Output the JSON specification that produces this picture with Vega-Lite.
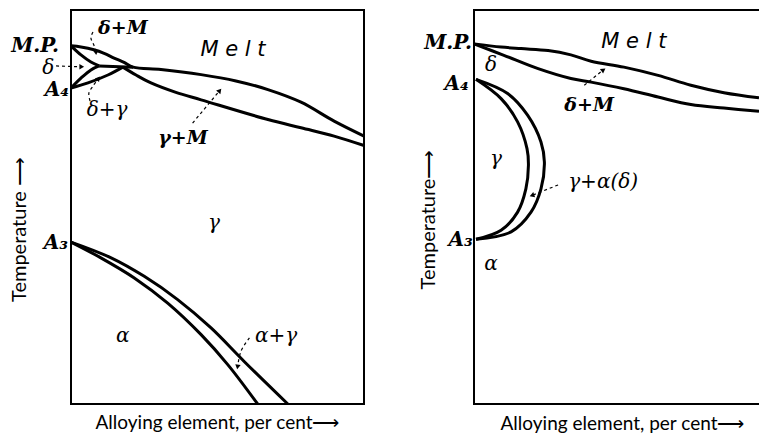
{
  "$schema": "https://vega.github.io/schema/vega-lite/v6.json",
  "background": "white",
  "padding": {"left": 8, "top": 6, "right": 1, "bottom": 0},
  "autosize": {"type": "pad"},
  "spacing": 110,
  "bounds": "flush",
  "config": {"axis": {"labels": false, "ticks": false, "domain": false, "grid": false, "titleFont": "Lato", "titleFontSize": 19, "titleFontWeight": "normal", "titleColor": "black", "titleAlign": "center", "titleBaseline": "middle"}},
  "datasets": {
    "L_curves": [
      {"c": "liq", "i": 0, "x": 0, "y": 90.9}, {"c": "liq", "i": 1, "x": 3.4, "y": 90.6}, {"c": "liq", "i": 2, "x": 7.8, "y": 89.9}, {"c": "liq", "i": 3, "x": 11.3, "y": 89.0}, {"c": "liq", "i": 4, "x": 14.7, "y": 87.8}, {"c": "liq", "i": 5, "x": 18.1, "y": 86.7}, {"c": "liq", "i": 6, "x": 21.2, "y": 85.5}, {"c": "liq", "i": 7, "x": 30.7, "y": 84.9}, {"c": "liq", "i": 8, "x": 44.4, "y": 83.6}, {"c": "liq", "i": 9, "x": 56.3, "y": 82.0}, {"c": "liq", "i": 10, "x": 67.2, "y": 79.8}, {"c": "liq", "i": 11, "x": 78.5, "y": 76.6}, {"c": "liq", "i": 12, "x": 89.8, "y": 71.8}, {"c": "liq", "i": 13, "x": 100, "y": 68.0},
      {"c": "dM", "i": 0, "x": 0, "y": 90.9}, {"c": "dM", "i": 1, "x": 3.4, "y": 88.6}, {"c": "dM", "i": 2, "x": 6.8, "y": 86.8}, {"c": "dM", "i": 3, "x": 9.6, "y": 85.8},
      {"c": "dG", "i": 0, "x": 9.6, "y": 85.8}, {"c": "dG", "i": 1, "x": 6.8, "y": 84.8}, {"c": "dG", "i": 2, "x": 3.4, "y": 82.7}, {"c": "dG", "i": 3, "x": 0, "y": 80.2},
      {"c": "hz", "i": 0, "x": 9.6, "y": 85.8}, {"c": "hz", "i": 1, "x": 21.2, "y": 85.5},
      {"c": "dgl", "i": 0, "x": 0, "y": 80.2}, {"c": "dgl", "i": 1, "x": 5.8, "y": 81.5}, {"c": "dgl", "i": 2, "x": 12.6, "y": 83.5}, {"c": "dgl", "i": 3, "x": 17.7, "y": 85.5},
      {"c": "sol", "i": 0, "x": 17.7, "y": 85.5}, {"c": "sol", "i": 1, "x": 22.2, "y": 83.5}, {"c": "sol", "i": 2, "x": 27.3, "y": 81.5}, {"c": "sol", "i": 3, "x": 35.8, "y": 79.1}, {"c": "sol", "i": 4, "x": 44.4, "y": 77.2}, {"c": "sol", "i": 5, "x": 67.2, "y": 72.2}, {"c": "sol", "i": 6, "x": 78.5, "y": 70.1}, {"c": "sol", "i": 7, "x": 89.8, "y": 68.0}, {"c": "sol", "i": 8, "x": 100, "y": 65.6},
      {"c": "agu", "i": 0, "x": 0, "y": 41.1}, {"c": "agu", "i": 1, "x": 13.7, "y": 37.1}, {"c": "agu", "i": 2, "x": 25.0, "y": 32.4}, {"c": "agu", "i": 3, "x": 36.4, "y": 26.5}, {"c": "agu", "i": 4, "x": 47.8, "y": 19.3}, {"c": "agu", "i": 5, "x": 59.1, "y": 10.8}, {"c": "agu", "i": 6, "x": 74.0, "y": 0},
      {"c": "agl", "i": 0, "x": 0, "y": 41.1}, {"c": "agl", "i": 1, "x": 10.2, "y": 37.1}, {"c": "agl", "i": 2, "x": 21.6, "y": 32.0}, {"c": "agl", "i": 3, "x": 33.0, "y": 25.6}, {"c": "agl", "i": 4, "x": 44.4, "y": 17.6}, {"c": "agl", "i": 5, "x": 53.5, "y": 10.0}, {"c": "agl", "i": 6, "x": 63.7, "y": 0}
    ],
    "L_arrows": [
      {"a": "a1", "i": 0, "x": -5.1, "y": 85.8}, {"a": "a1", "i": 1, "x": 3.0, "y": 85.6},
      {"a": "a2", "i": 0, "x": 7.5, "y": 94.4}, {"a": "a2", "i": 1, "x": 6.8, "y": 92.9}, {"a": "a2", "i": 2, "x": 7.8, "y": 91.1}, {"a": "a2", "i": 3, "x": 8.5, "y": 89.6},
      {"a": "a3", "i": 0, "x": 6.5, "y": 76.9}, {"a": "a3", "i": 1, "x": 6.1, "y": 78.9}, {"a": "a3", "i": 2, "x": 7.5, "y": 80.7}, {"a": "a3", "i": 3, "x": 9.2, "y": 82.5},
      {"a": "a4", "i": 0, "x": 41.5, "y": 71.3}, {"a": "a4", "i": 1, "x": 50.6, "y": 79.4},
      {"a": "a5", "i": 0, "x": 60.9, "y": 16.8}, {"a": "a5", "i": 1, "x": 58.0, "y": 13.4}, {"a": "a5", "i": 2, "x": 56.9, "y": 9.6}
    ],
    "L_heads": [
      {"x": 3.4, "y": 85.6, "h": 90}, {"x": 8.5, "y": 89.4, "h": 175}, {"x": 9.2, "y": 82.5, "h": 40}, {"x": 50.6, "y": 79.4, "h": 40}, {"x": 56.9, "y": 9.6, "h": 190}
    ],
    "L_labels": [
      {"g": "tag", "t": "M.P.", "x": -4.1, "y": 90.9}, {"g": "tag", "t": "A₄", "x": -0.7, "y": 79.7}, {"g": "tag", "t": "A₃", "x": -1.0, "y": 40.9},
      {"g": "gr", "t": "δ", "x": -7.8, "y": 85.3}, {"g": "gr", "t": "δ+γ", "x": 12.3, "y": 74.6}, {"g": "gr", "t": "γ", "x": 48.8, "y": 45.9}, {"g": "gr", "t": "α", "x": 17.7, "y": 17.3}, {"g": "gr", "t": "α+γ", "x": 70.0, "y": 17.3},
      {"g": "grb", "t": "δ+M", "x": 17.7, "y": 95.4}, {"g": "grb", "t": "γ+M", "x": 38.2, "y": 67.5},
      {"g": "melt", "t": "M e l t", "x": 55.3, "y": 89.8}
    ],
    "R_frame": [
      {"i": 0, "x": 100, "y": 100}, {"i": 1, "x": 0, "y": 100}, {"i": 2, "x": 0, "y": 0}, {"i": 3, "x": 100, "y": 0}
    ],
    "R_curves": [
      {"c": "liq", "i": 0, "x": 0, "y": 91.4}, {"c": "liq", "i": 1, "x": 9.5, "y": 90.6}, {"c": "liq", "i": 2, "x": 16.5, "y": 90.2}, {"c": "liq", "i": 3, "x": 26.0, "y": 89.7}, {"c": "liq", "i": 4, "x": 34.0, "y": 88.6}, {"c": "liq", "i": 5, "x": 41.1, "y": 87.0}, {"c": "liq", "i": 6, "x": 52.6, "y": 85.5}, {"c": "liq", "i": 7, "x": 64.6, "y": 83.4}, {"c": "liq", "i": 8, "x": 76.1, "y": 80.9}, {"c": "liq", "i": 9, "x": 87.7, "y": 79.0}, {"c": "liq", "i": 10, "x": 100, "y": 77.7},
      {"c": "sol", "i": 0, "x": 0, "y": 91.4}, {"c": "sol", "i": 1, "x": 10.5, "y": 88.5}, {"c": "sol", "i": 2, "x": 22.5, "y": 85.1}, {"c": "sol", "i": 3, "x": 34.0, "y": 82.6}, {"c": "sol", "i": 4, "x": 41.1, "y": 81.7}, {"c": "sol", "i": 5, "x": 52.6, "y": 80.0}, {"c": "sol", "i": 6, "x": 64.6, "y": 77.9}, {"c": "sol", "i": 7, "x": 76.1, "y": 76.0}, {"c": "sol", "i": 8, "x": 87.7, "y": 75.1}, {"c": "sol", "i": 9, "x": 100, "y": 74.3},
      {"c": "in", "i": 0, "x": 0.7, "y": 82.4}, {"c": "in", "i": 1, "x": 9.5, "y": 77.5}, {"c": "in", "i": 2, "x": 15.3, "y": 71.6}, {"c": "in", "i": 3, "x": 18.6, "y": 64.8}, {"c": "in", "i": 4, "x": 19.1, "y": 60.6}, {"c": "in", "i": 5, "x": 18.2, "y": 54.6}, {"c": "in", "i": 6, "x": 15.3, "y": 48.7}, {"c": "in", "i": 7, "x": 9.5, "y": 44.1}, {"c": "in", "i": 8, "x": 0.7, "y": 41.8},
      {"c": "out", "i": 0, "x": 0.7, "y": 82.4}, {"c": "out", "i": 1, "x": 11.8, "y": 78.8}, {"c": "out", "i": 2, "x": 18.8, "y": 73.3}, {"c": "out", "i": 3, "x": 23.5, "y": 66.5}, {"c": "out", "i": 4, "x": 24.7, "y": 61.4}, {"c": "out", "i": 5, "x": 23.5, "y": 54.6}, {"c": "out", "i": 6, "x": 20.0, "y": 48.7}, {"c": "out", "i": 7, "x": 13.0, "y": 43.7}, {"c": "out", "i": 8, "x": 0.7, "y": 41.8}
    ],
    "R_arrows": [
      {"a": "a6", "i": 0, "x": 38.7, "y": 80.9}, {"a": "a6", "i": 1, "x": 45.2, "y": 84.7},
      {"a": "a7", "i": 0, "x": 29.5, "y": 55.6}, {"a": "a7", "i": 1, "x": 20.6, "y": 53.0}
    ],
    "R_heads": [
      {"x": 45.2, "y": 84.7, "h": 55}, {"x": 20.6, "y": 53.0, "h": 250}
    ],
    "R_labels": [
      {"g": "tag", "t": "M.P.", "x": -0.7, "y": 91.6}, {"g": "tag", "t": "A₄", "x": -1.8, "y": 81.2}, {"g": "tag", "t": "A₃", "x": -0.4, "y": 41.6},
      {"g": "gr", "t": "δ", "x": 6.0, "y": 86.0}, {"g": "gr", "t": "γ", "x": 7.7, "y": 62.2}, {"g": "gr", "t": "α", "x": 6.0, "y": 35.5}, {"g": "gr", "t": "γ+α(δ)", "x": 45.3, "y": 56.3},
      {"g": "grb", "t": "δ+M", "x": 40.4, "y": 75.9},
      {"g": "melt", "t": "M e l t", "x": 56.1, "y": 91.9}
    ]
  },
  "hconcat": [
    {
      "width": 293,
      "height": 394,
      "view": {"stroke": "black", "strokeWidth": 2},
      "encoding": {
        "x": {"field": "x", "type": "quantitative", "scale": {"domain": [0, 100], "nice": false, "zero": false}, "axis": {"title": "Alloying element, per cent⟶", "titleX": 146, "titleY": 18}},
        "y": {"field": "y", "type": "quantitative", "scale": {"domain": [0, 100], "nice": false, "zero": false}, "axis": {"title": "Temperature ⟶", "titleX": -52, "titleY": 219, "titleFontSize": 20}}
      },
      "layer": [
        {"data": {"name": "L_curves"}, "mark": {"type": "line", "interpolate": "catmull-rom", "strokeWidth": 3, "color": "black", "clip": false}, "encoding": {"detail": {"field": "c"}, "order": {"field": "i", "type": "quantitative"}}},
        {"data": {"name": "L_arrows"}, "mark": {"type": "line", "interpolate": "catmull-rom", "strokeWidth": 1.2, "strokeDash": [3, 3], "color": "black", "clip": false}, "encoding": {"detail": {"field": "a"}, "order": {"field": "i", "type": "quantitative"}}},
        {"data": {"name": "L_heads"}, "mark": {"type": "point", "shape": "triangle", "filled": true, "size": 30, "color": "black", "opacity": 1}, "encoding": {"angle": {"field": "h", "type": "quantitative", "scale": null}}},
        {"data": {"name": "L_labels"}, "transform": [{"filter": "datum.g == 'tag'"}], "mark": {"type": "text", "font": "DejaVu Serif", "fontStyle": "italic", "fontWeight": "bold", "fontSize": 20, "align": "right", "baseline": "middle", "color": "black"}, "encoding": {"text": {"field": "t"}}},
        {"data": {"name": "L_labels"}, "transform": [{"filter": "datum.g == 'gr'"}], "mark": {"type": "text", "font": "DejaVu Serif", "fontStyle": "italic", "fontSize": 20, "align": "center", "baseline": "middle", "color": "black"}, "encoding": {"text": {"field": "t"}}},
        {"data": {"name": "L_labels"}, "transform": [{"filter": "datum.g == 'grb'"}], "mark": {"type": "text", "font": "DejaVu Serif", "fontStyle": "italic", "fontWeight": "bold", "fontSize": 19, "align": "center", "baseline": "middle", "color": "black"}, "encoding": {"text": {"field": "t"}}},
        {"data": {"name": "L_labels"}, "transform": [{"filter": "datum.g == 'melt'"}], "mark": {"type": "text", "font": "DejaVu Sans", "fontStyle": "italic", "fontSize": 21, "align": "center", "baseline": "middle", "color": "black"}, "encoding": {"text": {"field": "t"}}}
      ]
    },
    {
      "width": 285,
      "height": 394,
      "view": {"stroke": null},
      "encoding": {
        "x": {"field": "x", "type": "quantitative", "scale": {"domain": [0, 100], "nice": false, "zero": false}, "axis": {"title": "Alloying element, per cent⟶", "titleX": 148, "titleY": 19}},
        "y": {"field": "y", "type": "quantitative", "scale": {"domain": [0, 100], "nice": false, "zero": false}, "axis": {"title": "Temperature⟶", "titleX": -46, "titleY": 209, "titleFontSize": 20}}
      },
      "layer": [
        {"data": {"name": "R_frame"}, "mark": {"type": "line", "strokeWidth": 2, "color": "black", "clip": false}, "encoding": {"order": {"field": "i", "type": "quantitative"}}},
        {"data": {"name": "R_curves"}, "mark": {"type": "line", "interpolate": "catmull-rom", "strokeWidth": 3, "color": "black", "clip": false}, "encoding": {"detail": {"field": "c"}, "order": {"field": "i", "type": "quantitative"}}},
        {"data": {"name": "R_arrows"}, "mark": {"type": "line", "strokeWidth": 1.2, "strokeDash": [3, 3], "color": "black", "clip": false}, "encoding": {"detail": {"field": "a"}, "order": {"field": "i", "type": "quantitative"}}},
        {"data": {"name": "R_heads"}, "mark": {"type": "point", "shape": "triangle", "filled": true, "size": 30, "color": "black", "opacity": 1}, "encoding": {"angle": {"field": "h", "type": "quantitative", "scale": null}}},
        {"data": {"name": "R_labels"}, "transform": [{"filter": "datum.g == 'tag'"}], "mark": {"type": "text", "font": "DejaVu Serif", "fontStyle": "italic", "fontWeight": "bold", "fontSize": 20, "align": "right", "baseline": "middle", "color": "black"}, "encoding": {"text": {"field": "t"}}},
        {"data": {"name": "R_labels"}, "transform": [{"filter": "datum.g == 'gr'"}], "mark": {"type": "text", "font": "DejaVu Serif", "fontStyle": "italic", "fontSize": 20, "align": "center", "baseline": "middle", "color": "black"}, "encoding": {"text": {"field": "t"}}},
        {"data": {"name": "R_labels"}, "transform": [{"filter": "datum.g == 'grb'"}], "mark": {"type": "text", "font": "DejaVu Serif", "fontStyle": "italic", "fontWeight": "bold", "fontSize": 19, "align": "center", "baseline": "middle", "color": "black"}, "encoding": {"text": {"field": "t"}}},
        {"data": {"name": "R_labels"}, "transform": [{"filter": "datum.g == 'melt'"}], "mark": {"type": "text", "font": "DejaVu Sans", "fontStyle": "italic", "fontSize": 21, "align": "center", "baseline": "middle", "color": "black"}, "encoding": {"text": {"field": "t"}}}
      ]
    }
  ]
}
